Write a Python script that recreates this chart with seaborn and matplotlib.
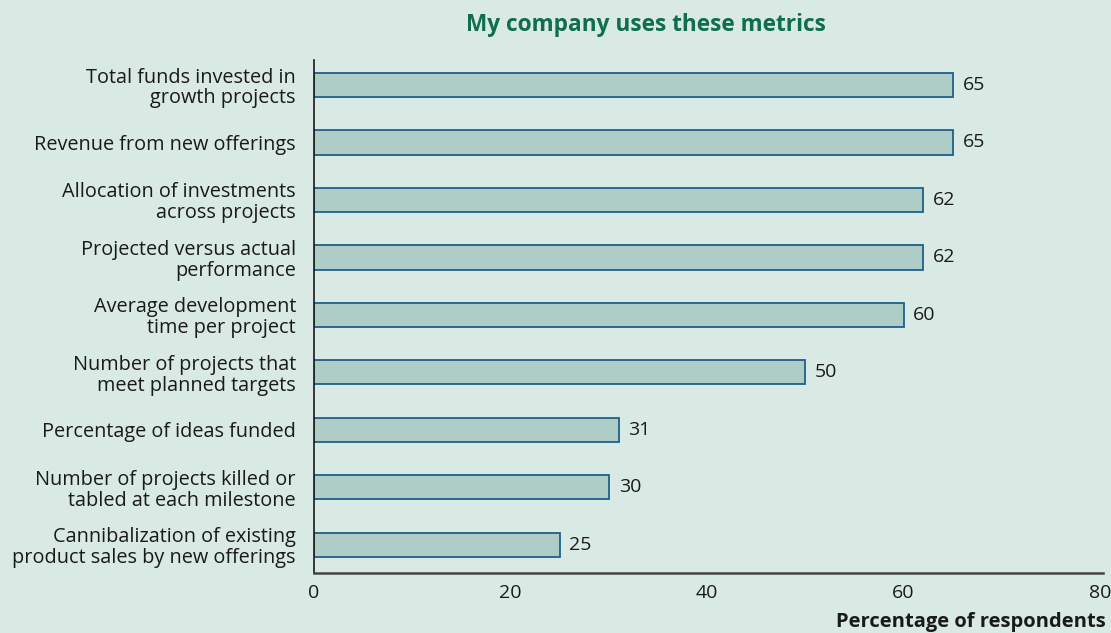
import matplotlib
matplotlib.use("Agg")
import matplotlib.pyplot as plt
import seaborn as sns
import pandas as pd

categories = [
    "Total funds invested in\ngrowth projects",
    "Revenue from new offerings",
    "Allocation of investments\nacross projects",
    "Projected versus actual\nperformance",
    "Average development\ntime per project",
    "Number of projects that\nmeet planned targets",
    "Percentage of ideas funded",
    "Number of projects killed or\ntabled at each milestone",
    "Cannibalization of existing\nproduct sales by new offerings",
]
values = [65, 65, 62, 62, 60, 50, 31, 30, 25]
xticks = [0, 20, 40, 60, 80]

BG = "#d9eae4"
sns.set_theme(style="white")
plt.rcParams["font.family"] = ["Open Sans", "DejaVu Sans"]

df = pd.DataFrame({"metric": categories, "value": values})

fig = plt.figure(figsize=(11.11, 6.33), dpi=100, facecolor=BG)
ax = fig.add_axes([314 / 1111, 1 - 573 / 633, (1103 - 314) / 1111, (573 - 60) / 633])
ax.set_facecolor(BG)

sns.barplot(data=df, x="value", y="metric", orient="h", ax=ax,
            color="#adcdc6", edgecolor="#1f5f8b", linewidth=1.3,
            width=0.42, saturation=1)

for i, v in enumerate(values):
    ax.text(v + 1.0, i, str(v), va="center", ha="left", fontsize=14, color="#1a1a1a")

ax.set_xlim(0, 80.3)
ax.set_ylim(8.49, -0.435)
ax.set_xticks(xticks)
ax.set_xticklabels([str(t) for t in xticks], fontsize=14, color="#1a1a1a")
ax.tick_params(axis="y", labelsize=14.3, colors="#1a1a1a", length=0, pad=13)
for lbl in ax.get_yticklabels():
    lbl.set_linespacing(1.05)
ax.tick_params(axis="x", length=0, pad=8)
ax.set_ylabel("")
ax.set_xlabel("")
for s in ["top", "right"]:
    ax.spines[s].set_visible(False)
ax.spines["left"].set_color("#1a1a1a")
ax.spines["left"].set_linewidth(1.2)
ax.spines["bottom"].set_color("#444444")
ax.spines["bottom"].set_linewidth(1.8)

fig.text(646 / 1111, 1 - 25 / 633, "My company uses these metrics", ha="center", va="center",
         fontsize=16.3, fontweight="bold", color="#0e6e4e")
fig.text(1106 / 1111, 1 - 622 / 633, "Percentage of respondents", ha="right", va="center",
         fontsize=14.5, fontweight="bold", color="#1a1a1a")

fig.savefig("out.png", dpi=100, facecolor=BG)
